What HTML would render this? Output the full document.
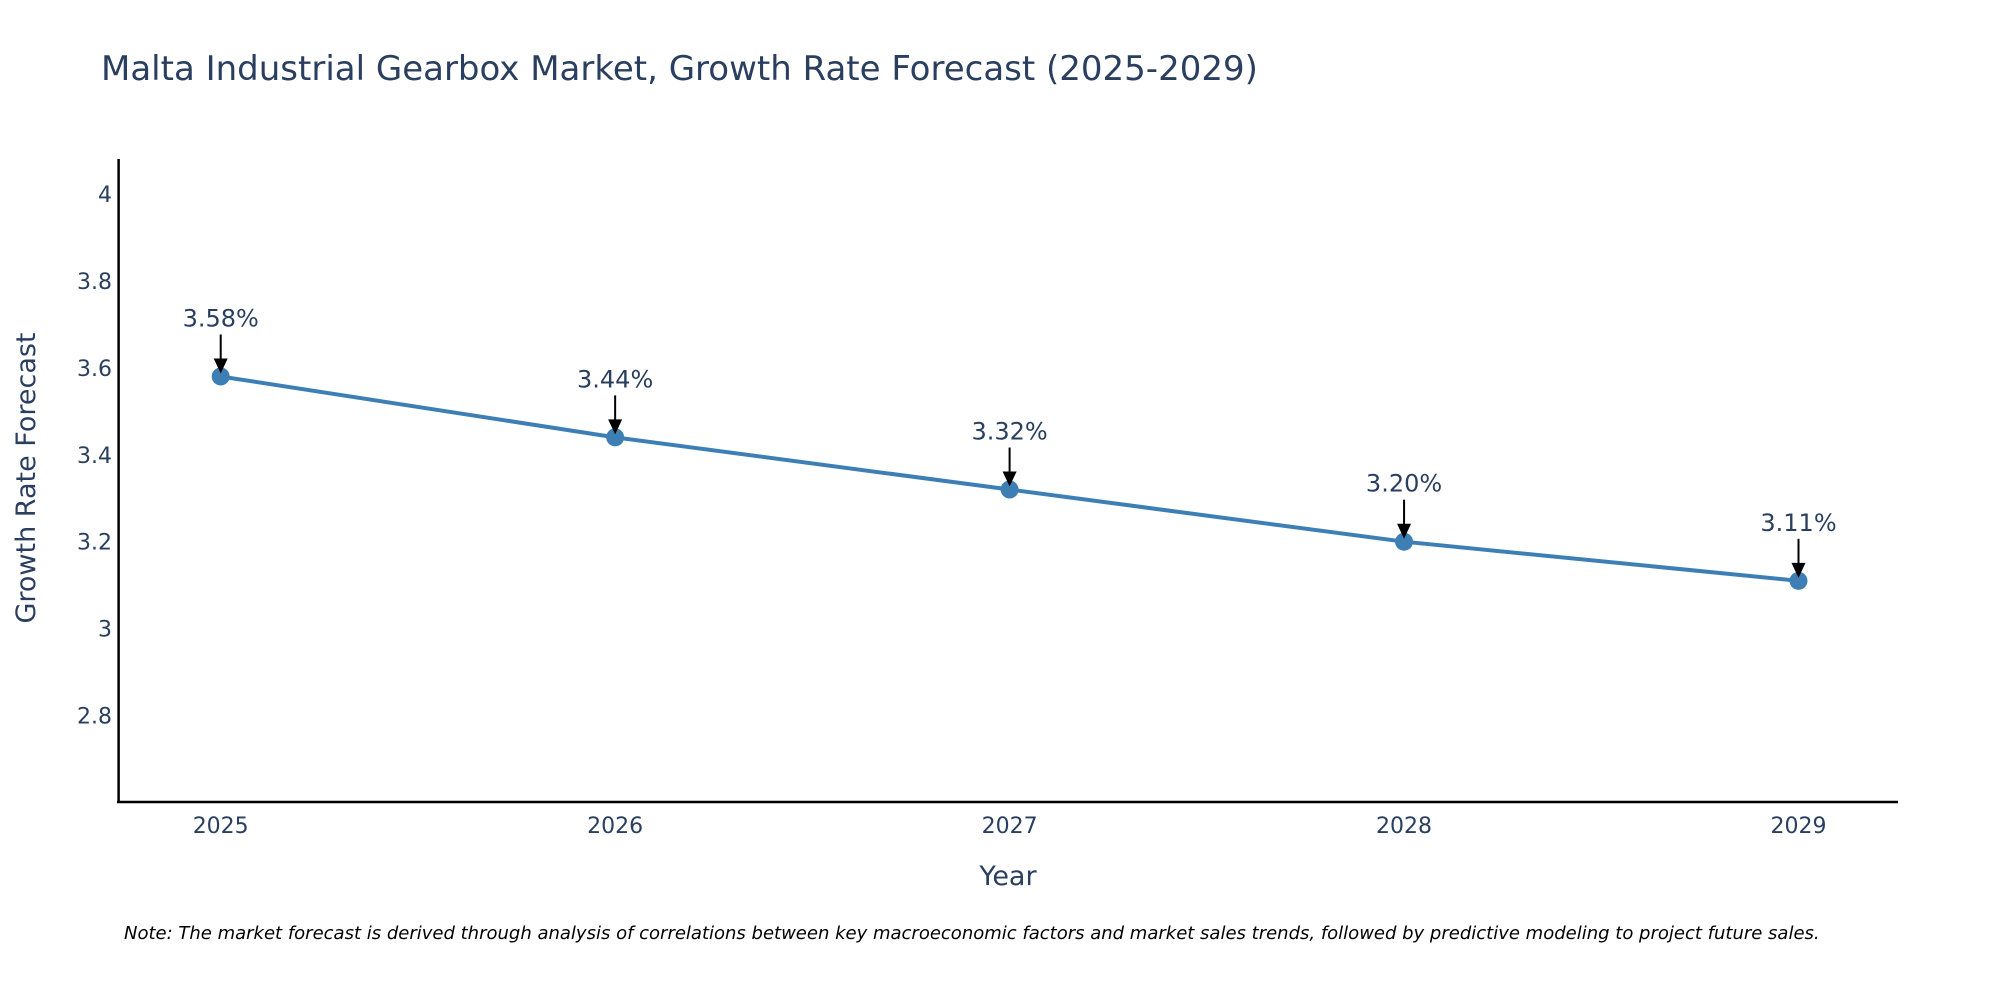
<!DOCTYPE html>
<html><head><meta charset="utf-8"><style>
html,body{margin:0;padding:0;background:#fff;overflow:hidden;}
svg text{font-family:"DejaVu Sans","Liberation Sans",sans-serif;fill:#2a3f5f;}
</style></head><body>
<svg id="chart" width="2000" height="1000" xmlns="http://www.w3.org/2000/svg">
<text x="101" y="80" font-size="34">Malta Industrial Gearbox Market, Growth Rate Forecast (2025-2029)</text>
<g id="yticks"></g><g id="xticks"></g>
<line x1="118.6" y1="159" x2="118.6" y2="802" stroke="#000" stroke-width="2.5"/>
<line x1="117" y1="802" x2="1898" y2="802" stroke="#000" stroke-width="2.5"/>
<path id="series-line" fill="none" stroke="#3d7fb5" stroke-width="4"/>
<g id="marks"></g>
<text x="1008" y="885" font-size="27" text-anchor="middle">Year</text>
<text transform="translate(35,478) rotate(-90)" font-size="27" text-anchor="middle">Growth Rate Forecast</text>
<text x="124" y="939" font-size="18" font-style="italic" style="fill:#000">Note: The market forecast is derived through analysis of correlations between key macroeconomic factors and market sales trends, followed by predictive modeling to project future sales.</text>
</svg>
<script>
const years = [2025, 2026, 2027, 2028, 2029];
const values = [3.58, 3.44, 3.32, 3.20, 3.11];
const labels = ["3.58%", "3.44%", "3.32%", "3.20%", "3.11%"];
const yTicks = [2.8, 3, 3.2, 3.4, 3.6, 3.8, 4];
const yTickLabels = ["2.8", "3", "3.2", "3.4", "3.6", "3.8", "4"];
const NS = "http://www.w3.org/2000/svg";
function xs(v){return 220.7 + (v-2025)*(1798.5-220.7)/4;}
function ys(v){return 193.9 + (4-v)*434.75;}
function mk(tag, attrs, parent){const e=document.createElementNS(NS,tag);for(const k in attrs)e.setAttribute(k,attrs[k]);parent.appendChild(e);return e;}
const yt=document.getElementById('yticks');
yTicks.forEach((t,i)=>{const e=mk('text',{x:112,y:ys(t)+8,'font-size':22,'text-anchor':'end'},yt);


e.textContent=yTickLabels[i];});
const xt=document.getElementById('xticks');
years.forEach(y=>{const e=mk('text',{x:xs(y),y:833,'font-size':22,'text-anchor':'middle'},xt);


e.textContent=y;});
document.getElementById('series-line').setAttribute('d',years.map((y,i)=>(i?'L':'M')+xs(y)+','+ys(values[i])).join(' '));
const g=document.getElementById('marks');
years.forEach((y,i)=>{const cx=xs(y),cy=ys(values[i]);
const c=mk('circle',{cx:cx,cy:cy,r:9,fill:'#3d7fb5'},g);


const l=mk('line',{x1:cx,y1:cy-42,x2:cx,y2:cy-14,stroke:'#000','stroke-width':2},g);


const p=mk('path',{d:`M${cx-7},${cy-18} L${cx+7},${cy-18} L${cx},${cy-3} Z`,fill:'#000'},g);


const t=mk('text',{x:cx,y:cy-50,'font-size':24,'text-anchor':'middle'},g);


t.textContent=labels[i];});
</script>
</body></html>
